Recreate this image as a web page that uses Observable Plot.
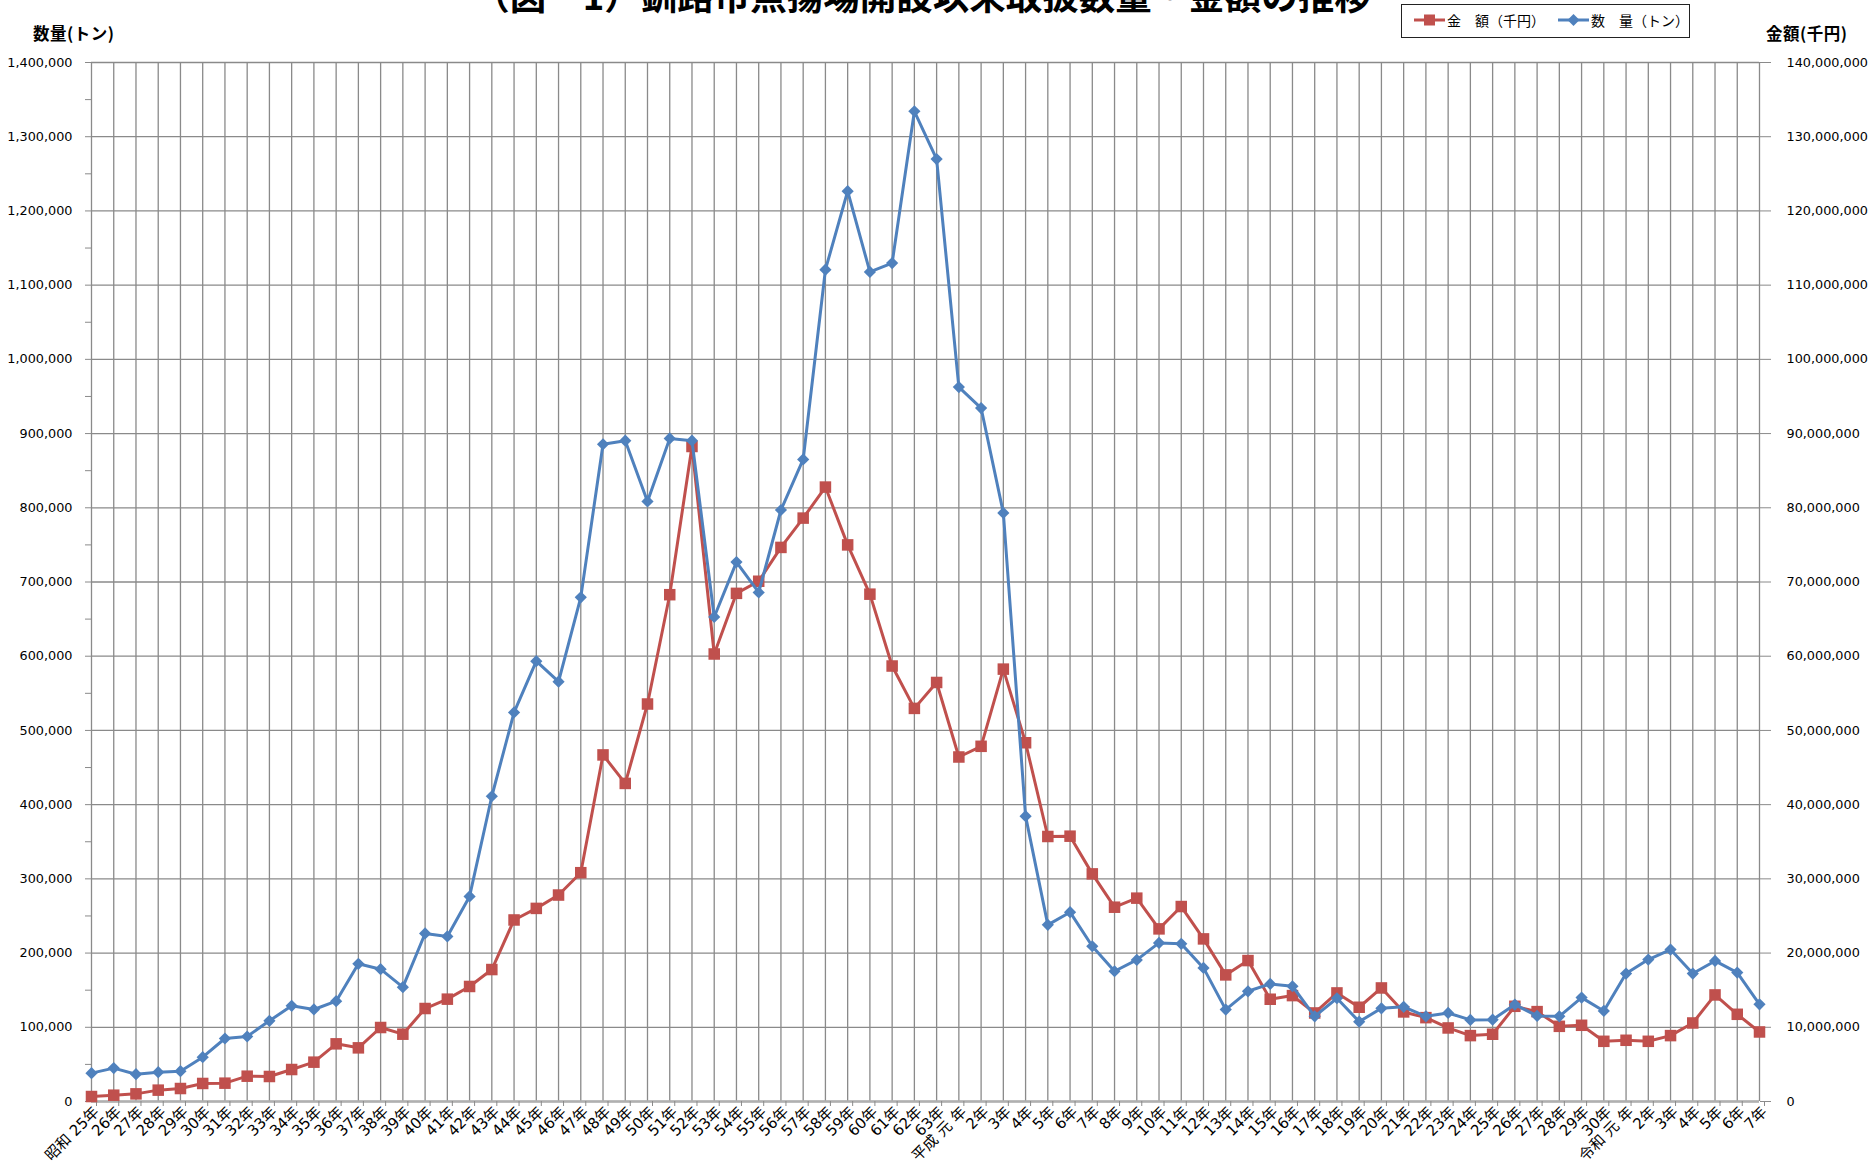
<!DOCTYPE html>
<html><head><meta charset="utf-8">
<script src="https://cdn.jsdelivr.net/npm/d3@7"></script>
<script src="https://cdn.jsdelivr.net/npm/@observablehq/plot@0.6"></script>
<style>
html,body{margin:0;padding:0;background:#fff;overflow:hidden;width:1871px;height:1166px;}
#wrap{position:relative;width:1871px;height:1166px;overflow:hidden;}
#chart{position:absolute;left:0;top:0;}
.t{position:absolute;font-family:'Noto Sans CJK JP',sans-serif;white-space:nowrap;color:#000;line-height:1;}
#title{top:-23px;left:922px;transform:translateX(-50%);font-size:36.5px;font-weight:bold;}
.axt{top:25px;font-size:16.5px;font-weight:bold;letter-spacing:0.5px;}
#legend{position:absolute;left:1401px;top:4px;width:287px;height:32px;border:1px solid #222;background:#fff;}
.lg{position:absolute;font-family:'Noto Sans CJK JP',sans-serif;font-size:14px;line-height:1;top:8px;white-space:nowrap;}
#legend svg{position:absolute;top:0;}
</style></head><body>
<div id="wrap">
  <div id="chart"></div>
  <div class="t" id="title">（図－1）釧路市魚揚場開設以来取扱数量・金額の推移</div>
  <div class="t axt" style="left:33px">数量(トン)</div>
  <div class="t axt" style="left:1766px">金額(千円)</div>
  <div id="legend">
    <svg width="287" height="32" style="left:0">
      <line x1="12" x2="43" y1="15" y2="15" stroke="#C0504D" stroke-width="3"/>
      <rect x="22" y="9.5" width="11" height="11" fill="#C0504D"/>
      <line x1="156" x2="187" y1="15" y2="15" stroke="#4F81BD" stroke-width="3"/>
      <path d="M171.5 9 L177.5 15 L171.5 21 L165.5 15 Z" fill="#4F81BD"/>
    </svg>
    <div class="lg" style="left:45px">金　額（千円）</div>
    <div class="lg" style="left:189px">数　量（トン）</div>
  </div>
</div>
<script>
// 年度ラベル
const labels = [
  "昭和 25年","26年","27年","28年","29年","30年","31年","32年","33年","34年",
  "35年","36年","37年","38年","39年","40年","41年","42年","43年","44年",
  "45年","46年","47年","48年","49年","50年","51年","52年","53年","54年",
  "55年","56年","57年","58年","59年","60年","61年","62年","63年",
  "平成 元 年","2年","3年","4年","5年","6年","7年","8年","9年","10年",
  "11年","12年","13年","14年","15年","16年","17年","18年","19年","20年",
  "21年","22年","23年","24年","25年","26年","27年","28年","29年","30年",
  "令和 元 年","2年","3年","4年","5年","6年","7年"
];
// 数量（トン）
const quantity = [
  38200, 45000, 36800, 39500, 40900, 59700, 84900, 87600, 108700, 128900,
  124000, 135200, 185500, 178300, 154100, 226400, 222400, 276300, 411300, 524200,
  593300, 565700, 679300, 885600, 890400, 808600, 893400, 890400, 652900, 726800,
  685900, 797000, 865100, 1120800, 1226600, 1117800, 1129800, 1334300, 1269900,
  962700, 934400, 793100, 384500, 238000, 255100, 209200, 175500, 190800, 213700,
  212400, 180000, 123800, 148500, 158400, 155300, 114800, 139100, 107600, 125600,
  127600, 114800, 119300, 109900, 110300, 130600, 115300, 114800, 140000, 122000,
  172400, 191200, 204700, 172400, 189400, 173700, 131000
];
// 金額（千円）
const amount = [
  670000, 850000, 1030000, 1530000, 1750000, 2430000, 2470000, 3410000, 3370000, 4310000,
  5300000, 7770000, 7230000, 9970000, 9070000, 12530000, 13790000, 15500000, 17780000, 24460000,
  26020000, 27820000, 30830000, 46700000, 42860000, 53560000, 68290000, 88260000, 60300000, 68470000,
  70100000, 74660000, 78610000, 82790000, 75000000, 68360000, 58680000, 52970000, 56460000,
  46420000, 47860000, 58260000, 48340000, 35710000, 35750000, 30670000, 26180000, 27400000, 23260000,
  26270000, 21910000, 17060000, 18990000, 13780000, 14270000, 11930000, 14630000, 12700000, 15300000,
  12070000, 11300000, 9910000, 8880000, 9060000, 12830000, 12110000, 10130000, 10270000, 8110000,
  8250000, 8110000, 8880000, 10580000, 14360000, 11750000, 9370000
];
const leftTicks = [0,100000,200000,300000,400000,500000,600000,700000,800000,900000,1000000,1100000,1200000,1300000,1400000];
const leftMinorTicks = [50000,150000,250000,350000,450000,550000,650000,750000,850000,950000,1050000,1150000,1250000,1350000];
const rightTicks = [0,10000000,20000000,30000000,40000000,50000000,60000000,70000000,80000000,90000000,100000000,110000000,120000000,130000000,140000000];

const RATIO = 100; // 右軸(千円) / 左軸(トン)
const red = "#C0504D", blue = "#4F81BD", gridColor = "#8a8a8a";
const data = labels.map((label, i) => ({i, label, quantity: quantity[i], amount: amount[i]}));
const idx = data.map(d => d.i);
const fmt = d3.format(",");

const chart = Plot.plot({
  width: 1871, height: 1166,
  marginTop: 62, marginBottom: 65, marginLeft: 91, marginRight: 112,
  style: {fontFamily: "'DejaVu Sans','Noto Sans CJK JP',sans-serif", fontSize: "12.8px", color: "#000", background: "transparent", overflow: "visible"},
  x: {type: "point", domain: idx, padding: 0, round: false},
  y: {domain: [0, 1400000]},
  marks: [
    Plot.gridX(idx, {stroke: gridColor, strokeOpacity: 1, strokeWidth: 1.3}),
    Plot.gridY(leftTicks, {stroke: gridColor, strokeOpacity: 1, strokeWidth: 1.3}),
    Plot.ruleY([0], {stroke: "#b0b0b0", strokeWidth: 2.4}),
    Plot.axisY(leftMinorTicks, {anchor: "left", tickSize: 6, tickFormat: () => "", stroke: gridColor, label: null}),
    Plot.axisY(leftTicks, {anchor: "left", tickSize: 6, tickPadding: 13, tickFormat: fmt, stroke: gridColor, fill: "#000", label: null}),
    Plot.axisY(rightTicks.map(v => v / RATIO), {anchor: "right", tickSize: 11, tickPadding: 16, tickFormat: d => fmt(Math.round(d * RATIO)), stroke: gridColor, fill: "#000", label: null}),
    Plot.axisX(idx, {anchor: "bottom", tickSize: 5, tickPadding: 3, tickRotate: -45, dx: 5, dy: 0, fontSize: 15, tickFormat: i => labels[i], stroke: gridColor, fill: "#000", label: null}),
    Plot.line(data, {x: "i", y: d => d.amount / RATIO, stroke: red, strokeWidth: 3}),
    Plot.dot(data, {x: "i", y: d => d.amount / RATIO, symbol: "square", r: 6.5, fill: red}),
    Plot.line(data, {x: "i", y: "quantity", stroke: blue, strokeWidth: 3}),
    Plot.dot(data, {x: "i", y: "quantity", symbol: "diamond2", r: 5.5, fill: blue})
  ]
});
document.getElementById("chart").appendChild(chart);
</script>
</body></html>
